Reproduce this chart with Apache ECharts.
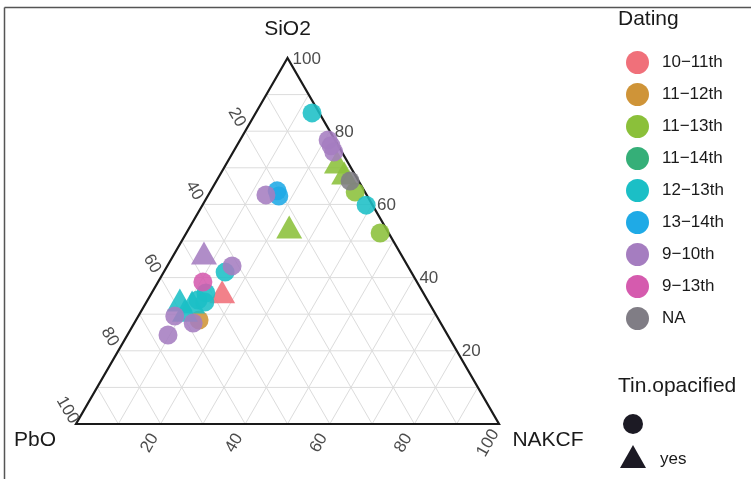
<!DOCTYPE html>
<html>
<head>
<meta charset="utf-8">
<script src="https://cdn.jsdelivr.net/npm/echarts@6/dist/echarts.min.js"></script>
<style>html,body{margin:0;padding:0;background:#fff;}#c{width:751px;height:479px;}</style>
</head>
<body>
<div id="c"></div>
<script>
// ---- data ----
const axisNames = ['SiO2', 'PbO', 'NAKCF'];
const tickLabels = [20, 40, 60, 80, 100];
const gridSteps = [10, 20, 30, 40, 50, 60, 70, 80, 90];
const datingLevels = ['10−11th', '11−12th', '11−13th', '11−14th', '12−13th', '13−14th', '9−10th', '9−13th', 'NA'];
const tinLevels = ['', 'yes'];

const sio2  = [85.0, 77.6, 76.0, 74.3, 71.6, 68.6, 66.4, 63.4, 59.8, 52.2, 62.6, 63.7, 62.3, 53.8, 46.7, 43.2, 41.5, 38.8, 36.1, 35.8, 33.9, 33.3, 33.9, 33.3, 31.1, 29.5, 28.4, 27.6, 24.3];
const pbo   = [1.7, 1.6, 1.7, 1.9, 2.5, 2.3, 2.0, 2.3, 1.5, 2.0, 23.8, 20.6, 20.9, 22.7, 46.4, 41.5, 44.0, 50.6, 47.4, 51.4, 58.5, 55.9, 54.2, 52.9, 58.7, 61.9, 56.7, 58.5, 66.1];
const nakcf = [13.3, 20.8, 22.3, 23.8, 25.9, 29.1, 31.6, 34.3, 38.7, 45.8, 13.6, 15.7, 16.8, 23.5, 6.9, 15.3, 14.5, 10.6, 16.5, 12.8, 7.6, 10.8, 11.9, 13.8, 10.2, 8.6, 14.9, 13.9, 9.6];
const dating = ['12−13th', '9−10th', '9−10th', '9−10th', '11−13th', '11−13th', 'NA', '11−13th', '12−13th', '11−13th',
                '9−10th', '13−14th', '13−14th', '11−13th', '9−10th', '9−10th', '12−13th', '9−13th', '10−11th', '12−13th',
                '12−13th', '12−13th', '12−13th', '12−13th', '12−13th', '9−10th', '11−12th', '9−10th', '9−10th'];
const tin = ['', '', '', '', 'yes', 'yes', '', '', '', '', '', '', '', 'yes', 'yes', '', '', '', 'yes', '',
             'yes', 'yes', '', '', 'yes', '', '', '', ''];

// ---- styles ----
const datingColors = ['#F0707A', '#CF9438', '#8BC03A', '#35AF78', '#1BBFC6', '#1FAAE6', '#A57DC0', '#D55BAE', '#807D85'];
const FONT = 'Liberation Sans, Arial, Helvetica, sans-serif';

// ternary (SiO2 top, PbO left, NAKCF right) -> cartesian data space
function tern(s, p, n) {
  const t = s + p + n;
  s = s / t * 100; n = n / t * 100;
  return [n + s / 2, s];
}

const chart = echarts.init(document.getElementById('c'), null, {renderer: 'canvas'});

function frameRender(params, api) {
  const ch = [];
  const P = (s, p, n) => api.coord(tern(s, p, n));
  gridSteps.forEach(v => {
    const segs = [
      [P(v, 100 - v, 0), P(v, 0, 100 - v)],
      [P(100 - v, v, 0), P(0, v, 100 - v)],
      [P(0, 100 - v, v), P(100 - v, 0, v)]
    ];
    segs.forEach(sg => ch.push({type: 'line', shape: {x1: sg[0][0], y1: sg[0][1], x2: sg[1][0], y2: sg[1][1]},
      style: {stroke: '#DCDCDC', lineWidth: 1}}));
  });
  const A = P(100, 0, 0), B = P(0, 100, 0), C = P(0, 0, 100);
  ch.push({type: 'polygon', shape: {points: [A, B, C]}, style: {fill: null, stroke: '#1a1a1a', lineWidth: 2.2}});
  const tickStyle = {fill: '#4D4D4D', fontSize: 17, fontFamily: FONT};
  tickLabels.forEach(v => {
    // right edge: SiO2
    let q = P(v, 0, 100 - v);
    ch.push({type: 'text', x: q[0] + 5, y: q[1] + 1, style: Object.assign({text: String(v), align: 'left', verticalAlign: 'middle'}, tickStyle)});
    // left edge: PbO
    q = P(100 - v, v, 0);
    ch.push({type: 'text', x: q[0] - 0.5 * 17, y: q[1] - 0.866 * 16, rotation: -Math.PI / 3,
      style: Object.assign({text: String(v), align: 'center', verticalAlign: 'middle'}, tickStyle)});
    // bottom edge: NAKCF
    q = P(0, 100 - v, v);
    ch.push({type: 'text', x: q[0] - 0.5 * 22, y: q[1] + 0.866 * 22, rotation: Math.PI / 3,
      style: Object.assign({text: String(v), align: 'center', verticalAlign: 'middle'}, tickStyle)});
  });
  const vStyle = {fill: '#1a1a1a', fontSize: 21, fontFamily: FONT, align: 'center', verticalAlign: 'middle'};
  ch.push({type: 'text', x: A[0], y: A[1] - 29, style: Object.assign({text: axisNames[0]}, vStyle)});
  ch.push({type: 'text', x: B[0] - 41, y: B[1] + 16, style: Object.assign({text: axisNames[1]}, vStyle)});
  ch.push({type: 'text', x: C[0] + 49, y: C[1] + 16, style: Object.assign({text: axisNames[2]}, vStyle)});
  return {type: 'group', children: ch};
}

const series = [{
  type: 'custom', name: 'frame', silent: true, z: 1, clip: false,
  data: [[0, 0]], renderItem: frameRender
}];

datingLevels.forEach((lvl, li) => {
  const data = [];
  dating.forEach((d, i) => {
    if (d !== lvl) return;
    const tri = tin[i] === 'yes';
    data.push({value: tern(sio2[i], pbo[i], nakcf[i]), symbol: tri ? 'triangle' : 'circle', symbolSize: tri ? [26, 23] : 19});
  });
  series.push({type: 'scatter', name: lvl, z: 3, data: data,
    itemStyle: {color: datingColors[li], opacity: 0.88}, emphasis: {disabled: true}});
});

chart.setOption({
  backgroundColor: '#fff',
  animation: false,
  grid: {left: 76, top: 58, width: 423, height: 366},
  xAxis: {type: 'value', min: 0, max: 100, show: false},
  yAxis: {type: 'value', min: 0, max: 100, show: false},
  legend: {
    orient: 'vertical', left: 621, top: 46, itemWidth: 23, itemHeight: 23, itemGap: 9,
    icon: 'circle', data: datingLevels, selectedMode: false,
    itemStyle: {opacity: 1},
    textStyle: {fontSize: 17, color: '#1a1a1a', fontFamily: FONT, padding: [0, 0, 0, 8]}
  },
  graphic: [
    {type: 'line', shape: {x1: 4.5, y1: 7.5, x2: 751, y2: 7.5}, style: {stroke: '#555', lineWidth: 1.5}},
    {type: 'line', shape: {x1: 4.5, y1: 7.5, x2: 4.5, y2: 479}, style: {stroke: '#555', lineWidth: 1.5}},
    {type: 'text', left: 618, top: 9, style: {text: 'Dating', fontSize: 21, fill: '#1a1a1a', fontFamily: FONT}},
    {type: 'text', left: 618, top: 376, style: {text: 'Tin.opacified', fontSize: 21, fill: '#1a1a1a', fontFamily: FONT}},
    {type: 'circle', shape: {cx: 633, cy: 424, r: 10}, style: {fill: '#1c1a24'}},
    {type: 'polygon', shape: {points: [[633, 445], [646, 468], [620, 468]]}, style: {fill: '#1c1a24'}},
    {type: 'text', left: 660, top: 451, style: {text: tinLevels[1], fontSize: 17, fill: '#1a1a1a', fontFamily: FONT}}
  ],
  series: series
});
</script>
</body>
</html>
